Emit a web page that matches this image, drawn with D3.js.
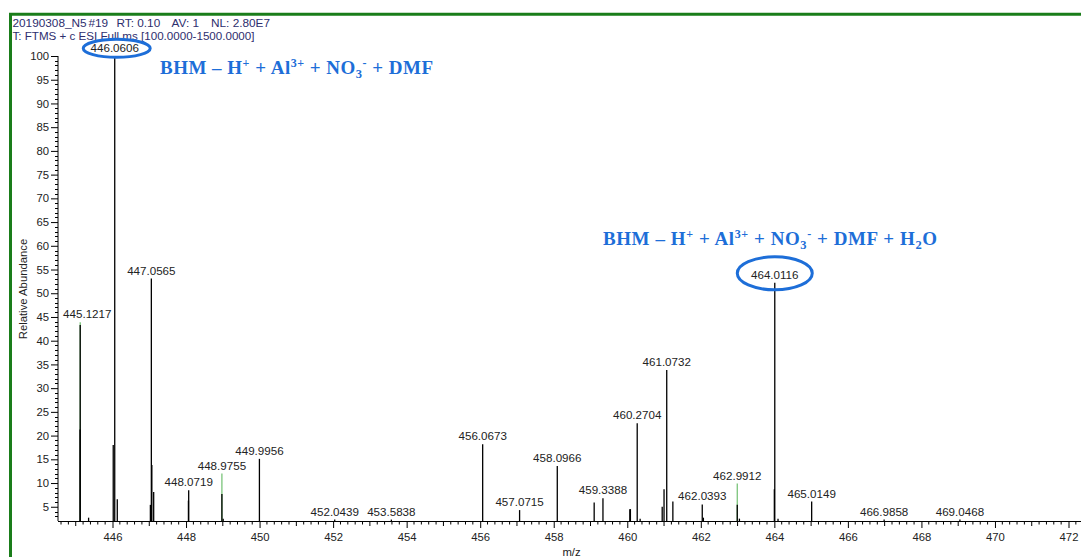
<!DOCTYPE html>
<html>
<head>
<meta charset="utf-8">
<script src="https://cdn.jsdelivr.net/npm/d3@7"></script>
<style>
  html, body { margin: 0; padding: 0; background: #ffffff; }
  svg { display: block; }
</style>
</head>
<body>
<svg id="chart" width="1081" height="557"></svg>
<script>
// ---------------- data ----------------
const peakMz = [445.118, 445.1217, 445.35, 446.02, 446.0606, 446.13, 447.03, 447.0565, 447.07, 447.12,
  448.065, 448.0719, 448.9755, 449.01, 449.9956, 452.0439, 453.5838, 456.0673, 457.0715, 458.0966,
  459.10, 459.3388, 460.07, 460.085, 460.2704, 460.35, 460.95, 461.00, 461.0732, 461.24,
  462.0393, 462.07, 462.9912, 463.05, 464.00, 464.0116, 464.10, 465.0149, 466.9858, 469.0468];
const peakIntensity = [21.3, 43.3, 2.7, 18.0, 100, 6.6, 5.4, 53.1, 13.8, 8.1,
  6.3, 8.5, 7.7, 2.5, 15.1, 2.3, 2.3, 18.2, 4.3, 13.6,
  5.9, 6.8, 4.5, 4.5, 22.6, 2.5, 5.0, 8.7, 33.8, 6.1,
  5.5, 2.7, 5.4, 2.5, 8.7, 52.2, 2.5, 6.1, 2.3, 2.3];
const greenMz = [445.1217, 448.9755, 462.9912];
const greenIntensity = [43.9, 12.0, 9.9];
const labelMz = [445.1217, 446.0606, 447.0565, 448.0719, 448.9755, 449.9956, 452.0439, 453.5838,
  456.0673, 457.0715, 458.0966, 459.3388, 460.2704, 461.0732, 462.0393, 462.9912, 464.0116,
  465.0149, 466.9858, 469.0468];
const circledMz = [446.0606, 464.0116];
const xTickValues = [446, 448, 450, 452, 454, 456, 458, 460, 462, 464, 466, 468, 470, 472];
const yTickValues = [5, 10, 15, 20, 25, 30, 35, 40, 45, 50, 55, 60, 65, 70, 75, 80, 85, 90, 95, 100];
const headerLine1 = ["20190308_N5", "#19", "RT: 0.10", "AV: 1", "NL: 2.80E7"];
const headerLine2 = "T: FTMS + c ESI Full ms [100.0000-1500.0000]";

// ---------------- layout ----------------
const svg = d3.select("#chart");
const W = 1081, H = 557;
const x = d3.scaleLinear().domain([446, 472]).range([112.5, 1068.5]);
const y = d3.scaleLinear().domain([2, 100]).range([521, 56]);
const baseY = y(2);
const axisLeft = 58;
const sans = "'Liberation Sans', Arial, sans-serif";
const serif = "'Liberation Serif', 'Times New Roman', serif";
const blue = "#1d6ed8";
const green = "#1a7d1a";

svg.append("rect").attr("width", W).attr("height", H).attr("fill", "#fff");

// green frame (left and top)
svg.append("path")
  .attr("d", `M10.5,${H} L10.5,14.2 L${W},14.2`)
  .attr("fill", "none").attr("stroke", green).attr("stroke-width", 3);

// header
const headerColor = "#2e2e6e";
const hdrX = [12.5, 88.5, 116.5, 171.5, 211];
headerLine1.forEach((t, i) => {
  svg.append("text").attr("x", hdrX[i]).attr("y", 27)
    .attr("font-family", sans).attr("font-size", 11.8).attr("fill", headerColor)
    .text(t);
});
svg.append("text").attr("x", 12.5).attr("y", 40)
  .attr("font-family", sans).attr("font-size", 11.6).attr("fill", headerColor)
  .text(headerLine2);

// ---------------- axes ----------------
// Y axis
svg.append("line").attr("x1", axisLeft).attr("x2", axisLeft)
  .attr("y1", y(100)).attr("y2", baseY).attr("stroke", "#000").attr("stroke-width", 1);
const yMinor = d3.range(3, 101, 1).filter(v => v % 5 !== 0);
svg.append("g").selectAll("line").data(yMinor).join("line")
  .attr("x1", axisLeft - 3).attr("x2", axisLeft)
  .attr("y1", d => Math.round(y(d)) + 0.5).attr("y2", d => Math.round(y(d)) + 0.5)
  .attr("stroke", "#000").attr("stroke-width", 1);
const yAxis = d3.axisLeft(y).tickValues(yTickValues).tickSize(7).tickPadding(2).tickFormat(d3.format("d"));
const gy = svg.append("g").attr("transform", `translate(${axisLeft},0)`).call(yAxis);
gy.select(".domain").remove();
gy.selectAll("text").attr("font-family", sans).attr("font-size", 11.3).attr("fill", "#222");
gy.selectAll("line").attr("stroke", "#000");

// X axis
svg.append("line").attr("x1", axisLeft).attr("x2", W)
  .attr("y1", baseY + 0.5).attr("y2", baseY + 0.5).attr("stroke", "#000").attr("stroke-width", 1.2);
const xMinor = d3.range(444.6, 472.41, 0.2).filter(v => Math.abs(v - Math.round(v)) > 0.05);
svg.append("g").selectAll("line").data(xMinor).join("line")
  .attr("x1", d => x(d)).attr("x2", d => x(d))
  .attr("y1", baseY).attr("y2", baseY + 3.5)
  .attr("stroke", "#000").attr("stroke-width", 1);
const xOdd = d3.range(445, 473, 2);
svg.append("g").selectAll("line").data(xOdd).join("line")
  .attr("x1", d => x(d)).attr("x2", d => x(d))
  .attr("y1", baseY).attr("y2", baseY + 5)
  .attr("stroke", "#000").attr("stroke-width", 1);
const xAxis = d3.axisBottom(x).tickValues(xTickValues).tickSize(7).tickPadding(5).tickFormat(d3.format("d"));
const gx = svg.append("g").attr("transform", `translate(0,${baseY})`).call(xAxis);
gx.select(".domain").remove();
gx.selectAll("text").attr("font-family", sans).attr("font-size", 11.3).attr("fill", "#222");
gx.selectAll("line").attr("stroke", "#000");

// axis titles
svg.append("text").attr("transform", `translate(27,289) rotate(-90)`)
  .attr("text-anchor", "middle").attr("font-family", sans).attr("font-size", 11.3).attr("fill", "#222")
  .text("Relative Abundance");
svg.append("text").attr("x", 571.5).attr("y", 555.5)
  .attr("text-anchor", "middle").attr("font-family", sans).attr("font-size", 11.3).attr("fill", "#222")
  .text("m/z");

// ---------------- peaks ----------------
const peaks = peakMz.map((m, i) => ({ mz: m, v: peakIntensity[i] }));
const greens = greenMz.map((m, i) => ({ mz: m, v: greenIntensity[i] }));

svg.append("g").selectAll("line").data(greens).join("line")
  .attr("x1", d => x(d.mz)).attr("x2", d => x(d.mz))
  .attr("y1", baseY).attr("y2", d => y(d.v))
  .attr("stroke", "#6fbf6f").attr("stroke-width", 1.2);

svg.append("g").selectAll("line").data(peaks).join("line")
  .attr("x1", d => x(d.mz)).attr("x2", d => x(d.mz))
  .attr("y1", baseY).attr("y2", d => y(d.v))
  .attr("stroke", "#000").attr("stroke-width", 1.3);

// labels
function topAt(m) {
  const vals = peaks.filter(p => Math.abs(p.mz - m) < 1e-6).map(p => p.v)
    .concat(greens.filter(p => Math.abs(p.mz - m) < 1e-6).map(p => p.v));
  return d3.max(vals);
}
const labelFont = 11.6;
const halfLabel = 24.3;
const labels = labelMz.map(m => ({ mz: m, v: topAt(m) }));
svg.append("g").selectAll("text").data(labels).join("text")
  .attr("x", d => Math.max(x(d.mz), axisLeft + 5 + halfLabel))
  .attr("y", d => y(d.v) - 4)
  .attr("text-anchor", "middle").attr("font-family", sans).attr("font-size", labelFont).attr("fill", "#222")
  .text(d => d.mz.toFixed(4));

// circled labels
const ellipseSize = [[33.5, 9], [37.5, 16.5]];
const ellipseDx = [2, 0];
const ellipseDy = [-7.7, -9.5];
svg.append("g").selectAll("ellipse").data(circledMz).join("ellipse")
  .attr("cx", (d, i) => x(d) + ellipseDx[i])
  .attr("cy", (d, i) => y(topAt(d)) + ellipseDy[i])
  .attr("rx", (d, i) => ellipseSize[i][0]).attr("ry", (d, i) => ellipseSize[i][1])
  .attr("fill", "none").attr("stroke", blue).attr("stroke-width", 3);

// ---------------- annotations ----------------
function formula(xp, yp, len, parts) {
  const base = 19;
  const t = svg.append("text").attr("x", xp).attr("y", yp)
    .attr("font-family", serif).attr("font-weight", "bold").attr("font-size", base).attr("fill", blue)
    .attr("xml:space", "preserve")
    .attr("textLength", len).attr("lengthAdjust", "spacing");
  let shift = 0;
  parts.forEach(p => {
    let target = 0, size = base;
    if (p[1] === "sup") { target = -7; size = 12; }
    if (p[1] === "sub") { target = 4; size = 12.5; }
    t.append("tspan").attr("dy", target - shift).attr("font-size", size).text(p[0]);
    shift = target;
  });
  return t;
}
formula(160, 73.5, 273, [["BHM – H", "n"], ["+", "sup"], [" + Al", "n"], ["3+", "sup"], [" + NO", "n"], ["3", "sub"], ["-", "sup"], [" + DMF", "n"]]);
formula(603, 244.5, 334, [["BHM – H", "n"], ["+", "sup"], [" + Al", "n"], ["3+", "sup"], [" + NO", "n"], ["3", "sub"], ["-", "sup"], [" + DMF + H", "n"], ["2", "sub"], ["O", "n"]]);
</script>
</body>
</html>
